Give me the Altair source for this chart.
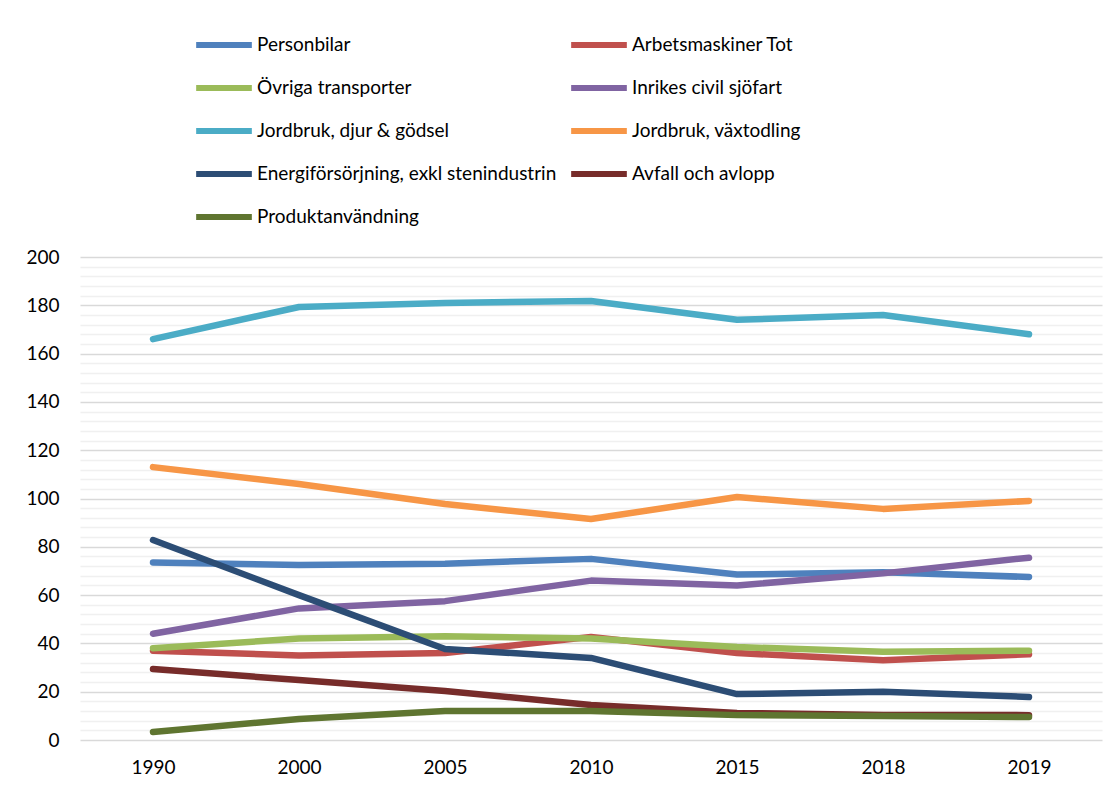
import altair as alt
import pandas as pd

years = ["1990", "2000", "2005", "2010", "2015", "2018", "2019"]

series = [
    "Personbilar",
    "Arbetsmaskiner Tot",
    "Övriga transporter",
    "Inrikes civil sjöfart",
    "Jordbruk, djur & gödsel",
    "Jordbruk, växtodling",
    "Energiförsörjning, exkl stenindustrin",
    "Avfall och avlopp",
    "Produktanvändning",
]

colors = ["#4F81BD", "#C0504D", "#9BBB59", "#8064A2", "#4BACC6",
          "#F79646", "#2C4D75", "#772C2A", "#5F7530"]

personbilar = [73.5, 72.5, 73.0, 75.0, 68.5, 69.5, 67.5]
arbetsmaskiner = [37.0, 35.0, 36.0, 42.7, 36.0, 33.0, 35.5]
ovriga = [38.0, 42.0, 43.0, 42.0, 38.5, 36.5, 37.0]
sjofart = [44.0, 54.5, 57.5, 66.0, 64.0, 69.0, 75.5]
djur = [166.0, 179.3, 181.0, 181.8, 174.0, 176.0, 168.0]
vaxtodling = [113.0, 106.0, 97.7, 91.5, 100.6, 95.7, 99.0]
energi = [82.8, 60.0, 37.7, 34.0, 19.0, 20.0, 17.8]
avfall = [29.4, 24.8, 20.3, 14.5, 11.2, 10.4, 10.3]
produkt = [3.3, 8.7, 12.0, 12.0, 10.3, 9.9, 9.5]

values = [personbilar, arbetsmaskiner, ovriga, sjofart, djur,
          vaxtodling, energi, avfall, produkt]

rows = []
for name, vals in zip(series, values):
    for y, v in zip(years, vals):
        rows.append({"year": y, "series": name, "value": v})
df = pd.DataFrame(rows)

FONT = "Lato"
FS = 19

chart = alt.Chart(df).mark_line(strokeWidth=6.5, strokeCap="round", strokeJoin="round").encode(
    x=alt.X("year:N", sort=years, title=None,
            scale=alt.Scale(paddingInner=0, paddingOuter=0.5),
            axis=alt.Axis(labelAngle=0, domain=False, ticks=False, grid=False,
                          labelPadding=18, labelFontSize=FS, labelColor="#000000",
                          labelFont=FONT)),
    y=alt.Y("value:Q", title=None,
            scale=alt.Scale(domain=[0, 200], nice=False, zero=True),
            axis=alt.Axis(values=list(range(0, 201, 4)), domain=False, ticks=False,
                          labelExpr="datum.value % 20 === 0 ? datum.label : ''",
                          labelFontSize=FS, labelColor="#000000", labelFont=FONT,
                          labelPadding=21,
                          gridColor=alt.condition("datum.value % 20 === 0",
                                                  alt.value("#D9D9D9"),
                                                  alt.value("#F0F0F0")),
                          gridWidth=1.5)),
    color=alt.Color("series:N", sort=series,
                    scale=alt.Scale(domain=series, range=colors),
                    legend=alt.Legend(title=None, orient="none", legendX=113, legendY=-243,
                                      direction="horizontal",
                                      columns=2, symbolType="stroke", symbolSize=3100,
                                      symbolStrokeWidth=6, labelFontSize=FS,
                                      labelFont=FONT, labelColor="#000000",
                                      labelOffset=2, columnPadding=2, rowPadding=-2.5,
                                      labelLimit=400)),
    order=alt.Order("year:N"),
).properties(
    width=1022,
    height=483,
    autosize=alt.AutoSizeParams(type="none"),
    padding={"left": 72, "top": 249, "right": 4, "bottom": 40},
).configure_view(stroke=None)

chart.save("out.html", embed_options={"renderer": "svg", "actions": False})
